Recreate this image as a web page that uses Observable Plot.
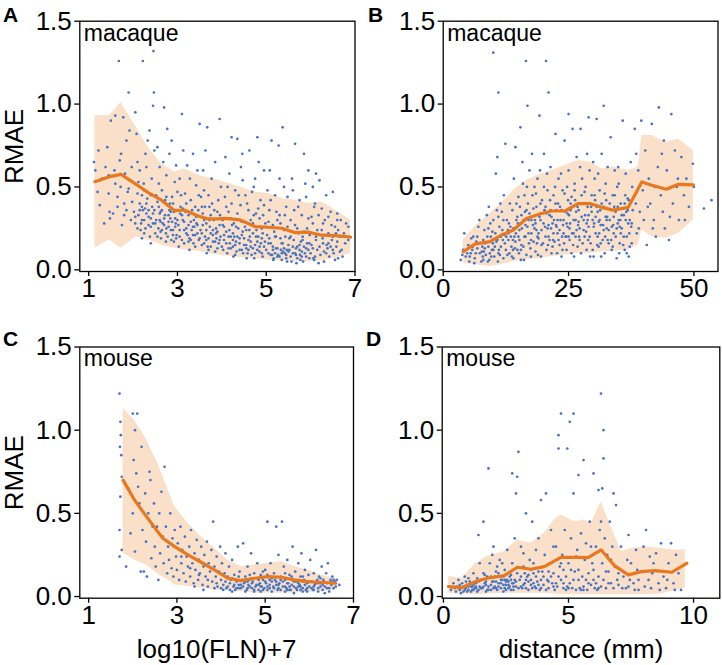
<!DOCTYPE html>
<html><head><meta charset="utf-8">
<script src="https://cdn.jsdelivr.net/npm/d3@7"></script>
<script src="https://cdn.jsdelivr.net/npm/@observablehq/plot@0.6"></script>
<style>
body{margin:0;background:#fff}
#root{position:relative;width:722px;height:665px;font-family:"Liberation Sans",Arial,Helvetica,sans-serif}
#root svg.p{position:absolute}
</style>
</head><body><div id="root"></div>
<script>
// ---- ticks and labels ----
const yTicks = [0, 0.5, 1.0, 1.5];
const xTicksFLN = [1, 3, 5, 7];
const xTicksMacDist = [0, 25, 50];
const xTicksMouseDist = [0, 5, 10];
const speciesTop = "macaque";
const speciesBottom = "mouse";
const xLabelFLN = "log10(FLN)+7";
const xLabelDist = "distance (mm)";
const yLabel = "RMAE";
const panelLetters = ["A", "B", "C", "D"];

// ---- Panel A: macaque, RMAE vs log10(FLN)+7 ----
const meanA = [[1.14,0.532],[1.47,0.562],[1.73,0.576],[2.07,0.516],[2.34,0.466],[2.64,0.42],[2.94,0.357],[3.15,0.361],[3.47,0.325],[3.69,0.307],[3.92,0.307],[4.07,0.311],[4.41,0.301],[4.75,0.261],[5.05,0.257],[5.35,0.251],[5.64,0.225],[5.96,0.227],[6.25,0.209],[6.56,0.207],[6.9,0.197]];
const bandA = [[1.14,0.13,0.93],[1.47,0.18,0.93],[1.73,0.13,1.01],[2.07,0.20,0.86],[2.34,0.18,0.74],[2.64,0.15,0.64],[2.94,0.13,0.59],[3.15,0.12,0.61],[3.47,0.11,0.57],[3.92,0.09,0.54],[4.41,0.074,0.50],[4.75,0.065,0.47],[5.05,0.06,0.46],[5.35,0.054,0.43],[5.64,0.05,0.42],[5.96,0.05,0.40],[6.25,0.054,0.41],[6.56,0.07,0.36],[6.9,0.10,0.30]];
const ptsA = [[1.12,0.65],[1.15,0.60],[1.2,0.47],[1.25,0.39],[1.3,0.55],[1.35,0.28],[1.42,0.74],[1.45,0.46],[1.47,0.35],[1.5,0.9],[1.45,0.57],[1.48,0.31],[1.38,0.62],[1.22,0.72],
[1.55,0.34],[1.6,0.93],[1.65,0.44],[1.68,1.26],[1.7,0.66],[1.72,0.5],[1.75,0.27],[1.78,0.92],[1.8,0.4],[1.82,0.58],[1.85,0.36],[1.88,0.47],[1.9,1.07],[1.92,0.84],[1.95,0.3],[1.97,0.62],[1.6,0.52],[1.65,0.38],[1.73,0.7],[1.85,0.78],[1.9,0.49],[1.98,0.41],[1.58,0.6],[1.8,0.33],
[2.02,0.35],[2.05,0.28],[2.08,0.82],[2.1,0.46],[2.12,0.33],[2.15,0.6],[2.17,0.24],[2.2,0.38],[2.22,1.26],[2.24,0.52],[2.25,0.3],[2.28,0.7],[2.3,0.34],[2.32,0.43],[2.35,0.27],[2.37,0.84],[2.4,0.31],[2.42,0.55],[2.45,0.99],[2.46,1.32],[2.48,0.36],[2.5,0.22],[2.05,0.95],[2.1,0.65],[2.15,0.4],[2.2,0.19],[2.25,0.48],[2.3,0.62],[2.35,0.36],[2.4,0.45],[2.45,0.28],[2.48,0.72],[2.18,0.28],[2.28,0.25],[2.38,0.2],[2.43,0.38],[2.12,0.53],[2.33,0.78],[2.47,1.07],[2.22,0.36],
[2.52,0.3],[2.55,0.41],[2.57,0.25],[2.6,0.62],[2.62,0.35],[2.63,0.19],[2.65,0.48],[2.67,0.28],[2.7,0.98],[2.72,0.33],[2.74,0.22],[2.75,0.57],[2.78,0.39],[2.8,0.26],[2.82,0.7],[2.84,0.31],[2.86,0.18],[2.88,0.44],[2.9,0.24],[2.92,0.35],[2.94,0.53],[2.96,0.28],[2.98,0.21],[2.55,0.74],[2.6,0.3],[2.65,0.36],[2.7,0.27],[2.75,0.44],[2.8,0.33],[2.85,0.24],[2.9,0.4],[2.95,0.31],[2.58,0.52],[2.68,0.65],[2.78,0.2],[2.88,0.29],[2.92,0.17],[2.62,0.23],[2.72,0.42],[2.82,0.36],[2.97,0.63],[2.87,0.78],[2.77,0.85],
[3.02,0.27],[3.05,0.2],[3.07,0.38],[3.1,0.94],[3.12,0.3],[3.15,0.16],[3.17,0.46],[3.2,0.25],[3.22,0.63],[3.25,0.33],[3.27,0.19],[3.3,0.42],[3.32,0.24],[3.35,0.7],[3.37,0.3],[3.4,0.14],[3.42,0.51],[3.45,0.22],[3.47,0.36],[3.5,0.88],[3.05,0.55],[3.1,0.33],[3.15,0.24],[3.2,0.4],[3.25,0.17],[3.3,0.29],[3.35,0.21],[3.4,0.38],[3.45,0.6],[3.48,0.18],[3.08,0.45],[3.18,0.35],[3.28,0.55],[3.38,0.26],[3.13,0.72],[3.23,0.21],[3.33,0.36],[3.43,0.28],[3.03,0.14],[3.48,0.45],
[3.52,0.24],[3.55,0.15],[3.57,0.34],[3.6,0.48],[3.62,0.2],[3.65,0.28],[3.67,0.86],[3.7,0.12],[3.72,0.38],[3.75,0.22],[3.77,0.55],[3.8,0.17],[3.82,0.3],[3.85,0.65],[3.87,0.25],[3.9,0.13],[3.92,0.42],[3.95,0.91],[3.97,0.2],[3.55,0.38],[3.6,0.3],[3.65,0.18],[3.7,0.45],[3.75,0.33],[3.8,0.24],[3.85,0.11],[3.9,0.35],[3.95,0.27],[3.58,0.6],[3.68,0.14],[3.78,0.4],[3.88,0.19],[3.98,0.5],[3.63,0.72],[3.73,0.26],[3.83,0.36],[3.93,0.16],[3.53,0.44],
[4.02,0.3],[4.05,0.18],[4.07,0.44],[4.1,0.23],[4.12,0.1],[4.15,0.35],[4.17,0.58],[4.2,0.2],[4.22,0.8],[4.25,0.14],[4.27,0.28],[4.3,0.48],[4.32,0.17],[4.35,0.79],[4.37,0.25],[4.4,0.12],[4.42,0.39],[4.45,0.21],[4.47,0.54],[4.5,0.15],[4.05,0.26],[4.1,0.38],[4.15,0.13],[4.2,0.31],[4.25,0.22],[4.3,0.09],[4.35,0.34],[4.4,0.19],[4.45,0.29],[4.48,0.1],[4.08,0.68],[4.18,0.16],[4.28,0.2],[4.38,0.45],[4.43,0.62],[4.13,0.5],[4.23,0.27],[4.33,0.11],[4.03,0.12],[4.46,0.7],
[4.52,0.26],[4.55,0.13],[4.57,0.4],[4.6,0.18],[4.62,0.72],[4.65,0.3],[4.67,0.09],[4.7,0.22],[4.72,0.5],[4.75,0.15],[4.77,0.34],[4.8,0.8],[4.82,0.2],[4.85,0.11],[4.87,0.42],[4.9,0.25],[4.92,0.08],[4.95,0.6],[4.97,0.17],[4.55,0.24],[4.6,0.36],[4.65,0.14],[4.7,0.28],[4.75,0.55],[4.8,0.12],[4.85,0.31],[4.9,0.19],[4.95,0.39],[4.58,0.1],[4.68,0.47],[4.78,0.24],[4.88,0.16],[4.98,0.28],[4.63,0.2],[4.73,0.07],[4.83,0.65],[4.93,0.33],[4.53,0.45],
[5.02,0.21],[5.05,0.1],[5.07,0.36],[5.1,0.16],[5.12,0.78],[5.15,0.27],[5.17,0.07],[5.2,0.45],[5.22,0.13],[5.25,0.3],[5.27,0.09],[5.3,0.55],[5.32,0.19],[5.35,0.06],[5.37,0.86],[5.4,0.24],[5.42,0.1],[5.45,0.38],[5.47,0.05],[5.5,0.15],[5.05,0.29],[5.1,0.42],[5.15,0.12],[5.2,0.2],[5.25,0.08],[5.3,0.33],[5.35,0.16],[5.4,0.5],[5.45,0.07],[5.48,0.26],[5.08,0.6],[5.18,0.23],[5.28,0.75],[5.38,0.11],[5.43,0.2],[5.13,0.09],[5.23,0.35],[5.33,0.12],[5.03,0.48],[5.48,0.44],
[5.52,0.12],[5.55,0.3],[5.57,0.05],[5.6,0.48],[5.62,0.18],[5.65,0.76],[5.67,0.09],[5.7,0.25],[5.72,0.38],[5.75,0.12],[5.77,0.06],[5.8,0.33],[5.82,0.2],[5.85,0.7],[5.87,0.1],[5.9,0.44],[5.92,0.16],[5.95,0.6],[5.97,0.07],[5.55,0.2],[5.6,0.1],[5.65,0.27],[5.7,0.14],[5.75,0.42],[5.8,0.08],[5.85,0.23],[5.9,0.13],[5.95,0.31],[5.58,0.55],[5.68,0.04],[5.78,0.17],[5.88,0.52],[5.98,0.21],[5.63,0.36],[5.73,0.22],[5.83,0.05],
[6.02,0.15],[6.05,0.28],[6.08,0.06],[6.1,0.4],[6.12,0.2],[6.15,0.12],[6.18,0.33],[6.2,0.54],[6.22,0.09],[6.25,0.24],[6.28,0.16],[6.3,0.05],[6.32,0.3],[6.35,0.45],[6.38,0.13],[6.4,0.22],[6.42,0.08],[6.45,0.35],[6.48,0.18],[6.5,0.47],[6.52,0.1],[6.55,0.26],[6.58,0.14],[6.6,0.34],[6.62,0.07],[6.65,0.2],[6.68,0.3],[6.7,0.12],[6.75,0.22],[6.78,0.16],[6.8,0.28],[6.85,0.18],[6.05,0.5],[6.15,0.24],[6.25,0.37],[6.35,0.1],[6.45,0.14],[6.55,0.06],[6.12,0.58],[6.08,0.38],[6.28,0.28],[6.4,0.32],[6.62,0.24],[6.72,0.08],[6.18,0.04],[6.5,0.2],[6.85,0.26]];
const ptsA2 = [[2.05,0.32],[2.1,0.25],[2.15,0.36],[2.2,0.3],[2.25,0.22],[2.3,0.4],[2.35,0.32],[2.4,0.26],[2.45,0.34],[2.5,0.28],[2.55,0.2],[2.6,0.34],[2.65,0.24],[2.7,0.31],[2.75,0.25],[2.8,0.29],[2.85,0.35],[2.9,0.21],[2.95,0.26],[3.0,0.3],[3.05,0.24],[3.1,0.18],[3.15,0.29],[3.2,0.22],[3.25,0.27],[3.3,0.18],[3.35,0.26],[3.4,0.21],[3.45,0.27],[3.5,0.19],[3.55,0.22],[3.6,0.16],[3.65,0.24],[3.7,0.19],[3.75,0.14],[3.8,0.21],[3.85,0.17],[3.9,0.23],[3.95,0.18],[4.0,0.14],[4.05,0.21],[4.1,0.16],[4.15,0.2],[4.2,0.13],[4.25,0.18],[4.3,0.15],[4.35,0.2],[4.4,0.16],[4.45,0.12],[4.5,0.19],[4.55,0.15],[4.6,0.12],[4.65,0.17],[4.7,0.13],[4.75,0.1],[4.8,0.17],[4.85,0.14],[4.9,0.1],[4.95,0.14],[5.0,0.12],[5.05,0.16],[5.1,0.09],[5.15,0.14],[5.2,0.1],[5.25,0.13],[5.3,0.08],[5.35,0.1],[5.4,0.13],[5.45,0.09],[5.5,0.11],[5.55,0.08],[5.6,0.14],[5.65,0.1],[5.7,0.07],[5.75,0.15],[5.8,0.11],[5.85,0.14],[5.9,0.08],[5.95,0.12],[6.0,0.1],[6.05,0.13],[6.1,0.08],[6.2,0.14],[6.3,0.11],[6.4,0.16],[6.5,0.12],[6.6,0.17],[6.7,0.2],[2.52,0.45],[2.83,0.4],[3.12,0.37],[3.42,0.32],[3.72,0.3],[4.02,0.27],[4.32,0.26],[4.62,0.24],[4.92,0.22],[5.22,0.2],[5.52,0.19],[5.82,0.18],[6.12,0.18],[2.27,0.37],[2.62,0.29],[2.97,0.19],[3.27,0.12],[3.57,0.27],[3.87,0.22],[4.17,0.24],[4.47,0.23],[4.77,0.2],[5.07,0.19],[5.37,0.16],[5.67,0.13],[5.97,0.16],[6.27,0.19],[6.57,0.22],[2.4,0.16],[2.74,0.17],[3.06,0.34],[3.36,0.16],[3.66,0.1],[3.96,0.33],[4.26,0.08],[4.56,0.07],[4.86,0.26],[5.16,0.06],[5.46,0.12],[5.76,0.09],[6.06,0.07],[6.36,0.15],[6.66,0.11],[3.52,0.32],[4.12,0.31],[4.72,0.33],[5.32,0.28],[5.92,0.25],[6.47,0.27],[2.2,0.45],[2.58,0.38],[3.0,0.47],[3.62,0.38],[4.22,0.4],[4.82,0.37],[5.42,0.33],[6.02,0.32],[6.6,0.3]];

// ---- Panel B: macaque, RMAE vs distance ----
const meanB = [[4.0,0.11],[6.3,0.155],[9.3,0.17],[11.6,0.21],[14.0,0.24],[16.6,0.31],[19.6,0.34],[21.6,0.355],[24.3,0.355],[26.9,0.40],[29.3,0.40],[31.6,0.377],[33.9,0.36],[36.9,0.377],[39.6,0.53],[41.6,0.51],[44.5,0.486],[46.9,0.516],[49.9,0.512]];
const bandB = [[4.0,0.04,0.18],[6.3,0.03,0.26],[9.3,0.02,0.34],[11.6,0.03,0.40],[14.0,0.05,0.48],[16.6,0.06,0.54],[19.6,0.07,0.58],[21.6,0.08,0.60],[24.3,0.09,0.63],[26.9,0.10,0.66],[29.3,0.10,0.65],[31.6,0.11,0.61],[33.9,0.11,0.62],[36.9,0.12,0.60],[38.9,0.15,0.62],[39.6,0.24,0.81],[41.6,0.20,0.81],[44.5,0.19,0.77],[46.9,0.22,0.79],[49.9,0.30,0.72]];
const ptsB = [[3.5,0.06],[4,0.12],[4.5,0.08],[5,0.15],[5.5,0.1],[6,0.2],[6.3,0.07],[6.8,0.13],[7,0.26],[7.3,0.1],[7.6,0.05],[8,0.18],[4.2,0.22],[5.2,0.05],[5.8,0.12],[6.6,0.17],[7.2,0.3],[7.8,0.14],[3.8,0.09],[6.2,0.04],[7.9,0.08],[5.6,0.19],[4.8,0.1],
[8.2,0.24],[8.5,0.09],[8.7,0.33],[9,0.14],[9.2,0.06],[9.5,0.2],[9.7,0.12],[10,1.31],[10,0.3],[10.2,0.08],[10.5,0.58],[10.6,0.17],[10.8,0.68],[11,1.07],[11,0.1],[11.2,0.26],[11.5,0.14],[11.7,0.35],[12,0.07],[12.2,0.21],[12.4,0.76],[12.5,0.12],[12.7,0.3],[13,0.18],[8.4,0.16],[8.9,0.05],[9.4,0.28],[9.9,0.16],[10.4,0.22],[10.9,0.05],[11.4,0.4],[11.9,0.18],[12.8,0.09],[9.1,0.38],[10.7,0.36],[12.1,0.45],[12.9,0.24],[8.1,0.11],[9.6,0.08],[11.1,0.12],
[13.2,0.1],[13.4,0.26],[13.6,0.14],[13.8,0.36],[14,0.07],[14.2,0.2],[14.4,0.74],[14.6,0.3],[14.8,0.12],[15,0.44],[15.2,0.18],[15.4,0.86],[15.5,0.06],[15.7,0.25],[15.9,0.52],[16,0.14],[16.3,0.35],[16.5,1.26],[16.6,0.09],[16.8,0.99],[17,0.22],[17.2,0.6],[17.4,0.13],[17.6,0.3],[17.8,0.45],[18,0.17],[13.3,0.4],[13.9,0.18],[14.5,0.22],[15.1,0.1],[15.6,0.33],[16.2,0.2],[16.9,0.4],[17.5,0.08],[17.9,0.27],[14.1,0.55],[15.8,0.65],[16.4,0.27],[17.1,0.16],[13.7,0.08],[14.9,0.28],[16.7,0.5],[17.7,0.7],[15.3,0.38],[14.3,0.13],[16.1,0.06],
[18.2,0.25],[18.4,0.11],[18.6,0.38],[18.8,0.55],[19,0.19],[19.2,0.93],[19.4,0.3],[19.5,0.08],[19.7,0.42],[19.9,0.16],[20.1,0.7],[20.3,0.26],[20.5,1.26],[20.6,0.12],[20.8,0.48],[21,1.07],[21,0.2],[21.2,0.33],[21.4,0.62],[21.6,0.1],[21.8,0.28],[22,0.45],[22.2,0.17],[22.4,0.82],[22.6,0.36],[22.8,0.22],[23,0.55],[18.3,0.3],[18.9,0.09],[19.6,0.24],[20.2,0.36],[20.9,0.15],[21.5,0.25],[22.1,0.3],[22.7,0.1],[18.5,0.46],[19.3,0.6],[20.7,0.58],[21.9,0.18],[22.9,0.4],[18.7,0.16],[20.4,0.2],[21.3,0.42],[22.5,0.27],[19.8,0.34],
[23.2,0.15],[23.4,0.3],[23.6,0.08],[23.8,0.48],[24,0.22],[24.2,0.78],[24.4,0.35],[24.6,0.12],[24.8,0.26],[25,0.94],[25,0.6],[25.2,0.18],[25.4,0.4],[25.6,0.1],[25.8,0.85],[26,0.3],[26.2,0.52],[26.4,0.2],[26.6,0.68],[26.8,0.14],[27,0.36],[27.2,0.25],[27.4,0.85],[27.6,0.45],[27.8,0.16],[28,0.3],[23.3,0.38],[23.9,0.27],[24.5,0.2],[25.1,0.33],[25.7,0.22],[26.3,0.42],[26.9,0.27],[27.5,0.1],[23.5,0.58],[24.1,0.16],[24.7,0.5],[25.3,0.28],[25.9,0.15],[26.5,0.35],[27.1,0.2],[27.7,0.55],[23.7,0.2],[24.9,0.42],[26.1,0.08],[27.3,0.62],
[28.2,0.2],[28.4,0.5],[28.6,0.12],[28.8,0.38],[29,0.92],[29,0.26],[29.2,0.6],[29.4,0.16],[29.6,0.45],[29.8,0.3],[30,0.08],[30.2,0.55],[30.4,0.22],[30.6,0.91],[30.8,0.35],[31,0.14],[31.2,0.48],[31.4,0.27],[31.6,0.7],[31.8,0.18],[32,0.99],[32,0.38],[32.2,0.1],[32.4,0.52],[32.6,0.25],[32.8,0.62],[33,0.16],[28.3,0.33],[28.9,0.18],[29.5,0.38],[30.1,0.28],[30.7,0.15],[31.3,0.36],[31.9,0.27],[32.5,0.42],[28.7,0.7],[29.9,0.65],[30.9,0.58],[31.5,0.08],[32.7,0.32],[28.5,0.23],[29.3,0.08],[30.3,0.42],[31.1,0.22],[32.3,0.2],
[33.2,0.3],[33.4,0.8],[33.6,0.12],[33.8,0.45],[34,0.22],[34.2,0.6],[34.4,0.35],[34.6,0.07],[34.8,0.28],[35,0.52],[35.2,0.16],[35.4,0.4],[35.6,0.25],[35.8,0.9],[36,0.33],[36.2,0.12],[36.4,0.58],[36.6,0.2],[36.8,0.43],[37,0.08],[37.2,0.3],[37.4,0.65],[37.6,0.16],[37.8,0.36],[33.5,0.18],[34.1,0.38],[34.7,0.5],[35.3,0.3],[35.9,0.15],[36.5,0.35],[37.1,0.22],[37.7,0.5],[33.9,0.27],[35.1,0.1],[36.3,0.45],[37.5,0.26],[34.9,0.62],[36.9,0.28],
[38.2,0.85],[38.4,0.4],[38.6,0.22],[38.9,0.6],[39.2,0.35],[39.5,0.9],[39.8,0.48],[40,0.3],[40.3,0.72],[40.6,0.15],[41,0.55],[41.3,0.4],[41.6,0.88],[42,0.3],[42.4,0.2],[42.8,0.62],[43,0.98],[43.4,0.45],[43.8,0.35],[44.2,0.25],[44.6,0.6],[45,0.18],[45.5,0.94],[45.8,0.4],[46.2,0.72],[46.6,0.5],[47,0.3],[47.5,0.68],[48,0.45],[48.5,0.55],[49,0.38],[49.8,0.64],[50,0.5],[52,0.37],[53.5,0.42],[39,0.25],[40.8,0.38],[42.2,0.5],[44,0.78],[45.2,0.32],[46.8,0.55],[48.2,0.3],[38.5,0.7],[41.8,0.25],[43.6,0.7]];
const ptsB2 = [[5.3,0.08],[5.9,0.14],[6.5,0.1],[7.1,0.16],[7.7,0.11],[8.3,0.13],[8.8,0.2],[9.3,0.1],[9.8,0.23],[10.3,0.14],[10.8,0.18],[11.3,0.09],[11.8,0.24],[12.3,0.16],[12.6,0.2],[13.1,0.28],[13.5,0.2],[14.0,0.25],[14.4,0.17],[14.8,0.32],[15.2,0.24],[15.6,0.15],[16.0,0.3],[16.4,0.2],[16.8,0.26],[17.2,0.34],[17.6,0.22],[18.0,0.37],[18.4,0.28],[18.8,0.2],[19.2,0.32],[19.6,0.15],[20.0,0.28],[20.4,0.38],[20.8,0.25],[21.2,0.18],[21.6,0.32],[22.0,0.22],[22.4,0.4],[22.8,0.3],[23.2,0.24],[23.6,0.36],[24.0,0.3],[24.4,0.2],[24.8,0.34],[25.2,0.25],[25.6,0.44],[26.0,0.22],[26.4,0.3],[26.8,0.38],[27.2,0.18],[27.6,0.32],[28.0,0.24],[28.4,0.4],[28.8,0.3],[29.2,0.2],[29.6,0.35],[30.0,0.26],[30.4,0.32],[30.8,0.2],[31.2,0.3],[31.6,0.4],[32.0,0.24],[32.4,0.32],[32.8,0.18],[33.2,0.4],[33.6,0.26],[34.0,0.32],[34.4,0.2],[34.8,0.38],[35.2,0.26],[35.6,0.33],[36.0,0.2],[36.4,0.3],[36.8,0.36],[37.2,0.14],[37.6,0.28],[14.6,0.4],[16.2,0.45],[18.2,0.5],[20.1,0.5],[22.3,0.5],[24.2,0.46],[26.2,0.48],[28.2,0.47],[30.2,0.45],[32.2,0.46],[34.2,0.45],[36.2,0.4],[19.0,0.22],[21.0,0.27],[23.0,0.18],[25.0,0.2],[27.0,0.29],[29.0,0.33],[31.0,0.29],[33.0,0.24],[35.0,0.3],[37.0,0.42],[12.0,0.3],[10.0,0.12],[8.0,0.06],[15.5,0.12],[17.5,0.18],[20.6,0.34],[23.8,0.12],[26.6,0.24],[29.8,0.12],[33.8,0.14],[36.6,0.1],[11.5,0.2],[13.9,0.12],[16.6,0.36],[19.4,0.4],[21.8,0.14],[24.6,0.28],[27.4,0.4],[30.6,0.38],[32.6,0.3],[35.4,0.22],[9.0,0.25],[6.8,0.2],[11.0,0.32],[13.0,0.22],[15.0,0.2],[17.0,0.3],[18.6,0.24],[21.4,0.36],[22.6,0.26],[25.4,0.36],[28.6,0.28],[31.4,0.16],[34.6,0.25]];

// ---- Panel C: mouse, RMAE vs log10(FLN)+7 ----
const meanC = [[1.78,0.70],[2.04,0.58],[2.34,0.47],[2.68,0.35],[2.95,0.30],[3.25,0.25],[3.55,0.206],[3.85,0.16],[4.15,0.11],[4.45,0.096],[4.76,0.11],[5.06,0.12],[5.36,0.116],[5.66,0.10],[5.96,0.09],[6.26,0.086],[6.6,0.08]];
const bandC = [[1.78,0.26,1.13],[2.04,0.22,1.06],[2.3,0.19,0.95],[2.6,0.13,0.78],[2.8,0.10,0.64],[2.95,0.07,0.54],[3.25,0.06,0.44],[3.55,0.05,0.36],[3.85,0.04,0.29],[4.15,0.036,0.22],[4.45,0.03,0.18],[4.76,0.02,0.19],[5.06,0.02,0.20],[5.36,0.02,0.21],[5.66,0.022,0.18],[5.96,0.024,0.16],[6.26,0.03,0.13],[6.6,0.04,0.11]];
const ptsC = [[1.7,1.22],[1.72,1.05],[1.73,0.97],[1.71,0.9],[1.74,0.85],[1.7,0.4],[1.75,0.28],[1.7,0.24],[1.72,0.6],[1.75,0.72],[1.85,0.18],[1.9,0.65],[1.95,0.38],[2.0,1.1],[2.1,1.1],[2.05,1.0],[2.02,0.82],[2.08,0.74],[2.0,0.5],[2.05,0.27],[2.12,0.66],[2.15,0.56],[2.18,0.15],[2.2,0.9],[2.22,0.4],[2.25,0.15],[2.28,0.62],[2.3,0.33],[2.32,0.12],[2.35,0.5],[2.38,0.75],[2.4,0.7],[2.42,0.23],[2.45,0.42],[2.48,0.56],[2.5,0.3],[2.52,0.18],[2.55,0.42],[2.58,0.1],[2.6,0.5],[2.62,0.26],[2.65,0.63],[2.68,0.36],[2.7,0.2],[2.72,0.78],[2.75,0.42],[2.78,0.14],[2.8,0.3],[2.82,0.22],[2.85,0.5],[2.88,0.17],[2.9,0.35],[2.92,0.12],[2.95,0.4],[2.98,0.24],
[3.0,0.16],[3.02,0.32],[3.05,0.1],[3.08,0.42],[3.1,0.2],[3.12,0.28],[3.15,0.14],[3.18,0.36],[3.2,0.09],[3.22,0.24],[3.25,0.18],[3.28,0.3],[3.3,0.12],[3.32,0.4],[3.35,0.2],[3.38,0.08],[3.4,0.26],[3.42,0.16],[3.45,0.34],[3.48,0.1],[3.5,0.22],[3.52,0.14],[3.55,0.3],[3.58,0.07],[3.6,0.18],[3.62,0.25],[3.65,0.12],[3.68,0.33],[3.7,0.06],[3.72,0.2],[3.75,0.15],[3.78,0.28],[3.8,0.09],[3.82,0.45],[3.85,0.18],[3.88,0.12],[3.9,0.24],[3.92,0.06],[3.95,0.15],[3.98,0.3],
[4.0,0.1],[4.02,0.2],[4.05,0.07],[4.08,0.14],[4.1,0.26],[4.12,0.05],[4.15,0.12],[4.18,0.18],[4.2,0.08],[4.22,0.1],[4.25,0.22],[4.28,0.06],[4.3,0.13],[4.32,0.04],[4.35,0.09],[4.38,0.3],[4.4,0.07],[4.42,0.15],[4.45,0.05],[4.48,0.1],[4.5,0.32],[4.52,0.08],[4.55,0.12],[4.58,0.04],[4.6,0.18],[4.62,0.07],[4.65,0.1],[4.68,0.26],[4.7,0.05],[4.72,0.09],[4.75,0.14],[4.78,0.06],[4.8,0.11],[4.82,0.2],[4.85,0.04],[4.88,0.08],[4.9,0.13],[4.92,0.06],[4.95,0.1],[4.98,0.05],
[5.0,0.16],[5.02,0.08],[5.05,0.45],[5.08,0.12],[5.1,0.05],[5.12,0.2],[5.15,0.09],[5.18,0.06],[5.2,0.14],[5.22,0.1],[5.25,0.42],[5.28,0.04],[5.3,0.25],[5.32,0.08],[5.35,0.12],[5.38,0.45],[5.4,0.06],[5.42,0.18],[5.45,0.1],[5.48,0.05],[5.5,0.22],[5.52,0.08],[5.55,0.13],[5.58,0.04],[5.6,0.1],[5.62,0.3],[5.65,0.06],[5.68,0.15],[5.7,0.09],[5.72,0.04],[5.75,0.2],[5.78,0.07],[5.8,0.12],[5.82,0.26],[5.85,0.05],[5.88,0.1],[5.9,0.16],[5.92,0.04],[5.95,0.08],[5.98,0.13],
[6.0,0.06],[6.02,0.22],[6.05,0.09],[6.08,0.04],[6.1,0.14],[6.12,0.07],[6.15,0.28],[6.18,0.1],[6.2,0.05],[6.22,0.12],[6.25,0.08],[6.28,0.18],[6.3,0.04],[6.32,0.1],[6.35,0.06],[6.38,0.14],[6.4,0.08],[6.42,0.2],[6.45,0.05],[6.48,0.1],[6.5,0.07],[6.52,0.12],[6.55,0.05],[6.58,0.09],[6.62,0.1],[6.68,0.07],
[4.05,0.04],[4.25,0.03],[4.45,0.07],[4.55,0.03],[4.7,0.11],[4.75,0.04],[4.9,0.03],[5.05,0.06],[5.15,0.03],[5.3,0.05],[5.45,0.03],[5.55,0.06],[5.65,0.02],[5.8,0.04],[5.95,0.03],[6.05,0.05],[6.2,0.03],[6.35,0.02],[4.15,0.06],[4.35,0.05],[4.65,0.06],[4.85,0.07],[5.25,0.07],[5.5,0.04],[5.75,0.06],[6.1,0.04],[6.45,0.03],[4.4,0.12],[4.95,0.15],[5.35,0.1],[5.85,0.09],[6.25,0.11],[4.6,0.09],[5.1,0.1],[5.6,0.12],[6.15,0.08],[6.55,0.1],[3.6,0.04],[3.85,0.05],[3.4,0.06]];
const ptsC2 = [[3.9,0.08],[4.0,0.05],[4.1,0.09],[4.2,0.04],[4.3,0.07],[4.4,0.05],[4.5,0.06],[4.55,0.09],[4.6,0.05],[4.7,0.08],[4.75,0.03],[4.8,0.07],[4.85,0.1],[4.9,0.06],[4.95,0.04],[5.0,0.09],[5.05,0.04],[5.1,0.07],[5.15,0.11],[5.2,0.05],[5.25,0.09],[5.3,0.07],[5.35,0.04],[5.4,0.09],[5.45,0.06],[5.5,0.08],[5.55,0.04],[5.6,0.07],[5.65,0.09],[5.7,0.05],[5.75,0.08],[5.8,0.06],[5.85,0.03],[5.9,0.07],[5.95,0.05],[6.0,0.09],[6.1,0.06],[6.2,0.08],[6.3,0.07],[6.4,0.05],[6.5,0.09],[6.6,0.06],[4.25,0.11],[4.65,0.13],[5.05,0.13],[5.45,0.14],[5.85,0.12],[6.25,0.06],[3.7,0.1],[3.5,0.13],[3.3,0.17],[3.1,0.24]];

// ---- Panel D: mouse, RMAE vs distance ----
const meanD = [[0.21,0.06],[0.75,0.054],[1.29,0.09],[1.76,0.11],[2.43,0.126],[2.96,0.176],[3.5,0.164],[4.03,0.18],[4.7,0.236],[5.24,0.236],[5.78,0.234],[6.31,0.28],[6.85,0.184],[7.39,0.13],[7.92,0.15],[8.46,0.156],[9.13,0.146],[9.73,0.20]];
const bandD = [[0.21,0.02,0.12],[0.75,0.015,0.11],[1.29,0.01,0.20],[1.76,0.015,0.24],[2.43,0.02,0.27],[2.96,0.02,0.34],[3.5,0.02,0.32],[4.03,0.02,0.38],[4.43,0.015,0.46],[4.7,0.01,0.49],[5.24,0.01,0.45],[5.64,0.01,0.46],[5.91,0.01,0.44],[6.31,0.01,0.57],[6.72,0.01,0.41],[7.12,0.01,0.27],[7.52,0.01,0.29],[8.06,0.01,0.30],[8.73,0.015,0.29],[9.13,0.03,0.28],[9.67,0.05,0.28]];
const ptsD = [[0.2,0.06],[0.3,0.04],[0.4,0.08],[0.5,0.03],[0.55,0.06],[0.6,0.1],[0.65,0.04],[0.7,0.05],[0.75,0.08],[0.8,0.03],[0.85,0.12],[0.9,0.05],[0.95,0.07],[1.0,0.04],[1.05,0.09],[1.1,0.03],[1.15,0.06],[1.2,0.14],[1.25,0.05],[1.3,0.08],[1.35,0.03],[1.4,0.37],[1.45,0.06],[1.5,0.1],[0.45,0.05],[0.65,0.07],[0.85,0.04],[1.0,0.11],[1.15,0.04],[1.3,0.05],[1.45,0.2],[0.95,0.03],[1.2,0.07],[1.4,0.04],[0.7,0.02],[1.1,0.06],
[1.55,0.05],[1.6,0.45],[1.65,0.08],[1.7,0.03],[1.75,0.12],[1.8,0.77],[1.8,0.06],[1.85,0.2],[1.9,0.04],[1.95,0.09],[2.0,0.3],[2.05,0.06],[2.1,0.15],[2.15,0.04],[2.2,0.08],[2.25,0.22],[2.3,0.05],[2.35,0.1],[2.4,0.03],[2.45,0.16],[2.5,0.07],[2.55,0.28],[2.6,0.05],[2.65,0.12],[2.7,0.04],[2.75,0.74],[2.75,0.2],[2.8,0.08],[2.85,0.35],[2.9,0.62],[2.9,0.06],[2.95,0.72],[2.95,0.14],[3.0,0.87],[1.6,0.14],[1.7,0.07],[1.9,0.12],[2.0,0.05],[2.1,0.09],[2.2,0.14],[2.3,0.1],[2.4,0.07],[2.5,0.04],[2.6,0.09],[2.7,0.1],[2.8,0.04],[2.85,0.1],[1.75,0.04],[2.15,0.18],[2.45,0.05],[2.65,0.06],[1.95,0.25],[2.35,0.2],[2.55,0.1],
[3.05,0.1],[3.1,0.3],[3.15,0.05],[3.2,0.18],[3.25,0.08],[3.3,0.5],[3.35,0.12],[3.4,0.04],[3.45,0.22],[3.5,0.07],[3.55,0.45],[3.6,0.14],[3.65,0.06],[3.7,0.28],[3.75,0.09],[3.8,0.35],[3.85,0.04],[3.9,0.58],[3.95,0.15],[4.0,0.07],[4.05,0.25],[4.1,0.62],[4.15,0.1],[4.2,0.05],[4.25,0.2],[4.3,0.4],[4.35,0.08],[4.4,0.14],[4.45,0.04],[4.5,0.3],[4.55,0.06],[4.6,0.97],[4.6,0.89],[4.65,0.18],[4.7,1.1],[4.7,0.1],[4.75,0.25],[4.8,0.05],[4.85,0.4],[4.9,0.12],[4.95,0.89],[4.95,0.06],[3.1,0.06],[3.3,0.1],[3.5,0.16],[3.7,0.05],[3.9,0.1],[4.1,0.04],[4.3,0.12],[4.5,0.08],[4.7,0.2],[4.9,0.04],[3.2,0.26],[3.6,0.2],[4.0,0.18],[4.4,0.3],[4.8,0.16],[3.4,0.09],[3.8,0.07],[4.2,0.15],
[5.0,0.2],[5.05,1.05],[5.05,0.08],[5.1,0.35],[5.15,0.05],[5.2,1.1],[5.2,0.62],[5.25,0.15],[5.3,0.04],[5.35,0.28],[5.4,0.73],[5.4,0.1],[5.45,0.05],[5.5,0.38],[5.55,0.12],[5.6,0.82],[5.6,0.06],[5.65,0.22],[5.7,0.32],[5.75,0.04],[5.8,0.14],[5.85,0.45],[5.9,0.07],[5.95,0.2],[6.0,0.74],[6.0,0.1],[6.05,0.05],[6.1,0.3],[6.15,0.04],[6.2,0.64],[6.2,0.12],[6.25,0.4],[6.3,1.22],[6.3,0.06],[6.35,0.65],[6.35,0.2],[6.4,1.0],[6.4,0.83],[6.4,0.1],[6.45,0.35],[6.5,0.05],[6.55,0.25],[6.6,0.15],[6.65,0.45],[6.7,0.08],[6.75,0.3],[6.8,0.62],[6.8,0.05],[6.85,0.18],[6.9,0.55],[6.95,0.1],[5.1,0.16],[5.3,0.24],[5.5,0.04],[5.7,0.1],[5.9,0.3],[6.1,0.08],[6.3,0.45],[6.5,0.15],[6.7,0.22],
[7.0,0.07],[7.1,0.3],[7.2,0.12],[7.3,0.05],[7.4,0.37],[7.5,0.2],[7.6,0.08],[7.7,0.28],[7.8,0.04],[7.9,0.15],[8.0,0.3],[8.1,0.4],[8.2,0.1],[8.3,0.05],[8.4,0.2],[8.5,0.26],[8.6,0.08],[8.7,0.32],[8.8,0.12],[8.9,0.05],[9.0,0.2],[9.1,0.32],[9.2,0.08],[9.3,0.25],[9.4,0.14],[9.5,0.04],[9.7,0.2],[7.15,0.05],[7.45,0.1],[7.75,0.16],[8.05,0.06],[8.35,0.14],[8.65,0.04],[8.95,0.1],[9.25,0.04],[7.35,0.22],[7.65,0.04],[8.25,0.24]];
const ptsD2 = [[0.6,0.05],[0.8,0.06],[0.9,0.09],[1.0,0.06],[1.1,0.08],[1.2,0.04],[1.3,0.06],[1.4,0.09],[1.5,0.05],[1.6,0.06],[1.7,0.09],[1.8,0.04],[1.9,0.07],[2.0,0.09],[2.1,0.05],[2.2,0.06],[2.3,0.08],[2.4,0.12],[2.5,0.09],[2.6,0.07],[2.7,0.13],[2.8,0.06],[2.9,0.09],[3.0,0.05],[3.1,0.12],[3.2,0.07],[3.3,0.05],[3.4,0.13],[3.5,0.1],[3.6,0.08],[3.7,0.12],[3.8,0.15],[3.9,0.05],[4.0,0.12],[4.2,0.09],[4.4,0.06],[4.6,0.12],[4.8,0.08],[5.0,0.05],[5.2,0.1],[5.4,0.16],[5.6,0.04],[5.8,0.08],[6.0,0.16],[6.2,0.05],[6.6,0.08],[7.0,0.14],[7.4,0.06],[7.8,0.1],[1.35,0.11],[1.65,0.13],[2.05,0.12],[2.45,0.1],[2.75,0.08],[3.25,0.14],[3.55,0.05]];

// ---- styling ----
const FONT = '"Liberation Sans", Arial, Helvetica, sans-serif';
const DOT = "#4474c4";
const LINE = "#e8781f";
const BAND = "#fbe0c9";
const TICK_FS = 26;

function makePanel(o) {
  const svg = Plot.plot({
    width: o.width, height: o.height,
    marginLeft: o.ml, marginRight: o.mr, marginTop: o.mt, marginBottom: o.mb,
    style: {fontFamily: FONT, fontSize: TICK_FS + "px", color: "black", background: "transparent", overflow: "visible"},
    x: {domain: o.xDomain},
    y: {domain: [-0.01, 1.5]},
    marks: [
      Plot.areaY(o.band, {x: d => d[0], y1: d => d[1], y2: d => d[2], fill: BAND}),
      Plot.dot(o.pts, {x: d => d[0], y: d => d[1], r: 1.35, fill: DOT, stroke: "none"}),
      Plot.line(o.mean, {x: d => d[0], y: d => d[1], stroke: LINE, strokeWidth: 3.2}),
      Plot.frame({stroke: "black", strokeWidth: 1.3}),
      Plot.axisX({ticks: o.xTicks, tickFormat: d3.format("d"), tickSize: 5, tickPadding: 2, strokeWidth: 1.3, fontSize: TICK_FS,
        label: o.xLabel, labelAnchor: "center", labelArrow: "none", labelOffset: 60}),
      Plot.axisY({ticks: yTicks, tickFormat: d3.format(".1f"), tickSize: 5, tickPadding: 3, strokeWidth: 1.3, fontSize: TICK_FS,
        label: o.yLabel, labelAnchor: "center", labelArrow: "none", labelOffset: 75}),
      Plot.text([o.species], {frameAnchor: "top-left", dx: 4, dy: 3, lineAnchor: "top", textAnchor: "start", fontSize: 23, text: d => d})
    ]
  });
  svg.classList.add("p");
  svg.style.left = o.left + "px";
  svg.style.top = o.top + "px";
  return svg;
}

const root = document.getElementById("root");
root.appendChild(makePanel({left: 0, top: 0, width: 361, height: 330, ml: 79.3, mr: 6.5, mt: 20.7, mb: 59,
  xDomain: [0.8, 7], xTicks: xTicksFLN, xLabel: null, yLabel: yLabel, pts: ptsA.concat(ptsA2), mean: meanA, band: bandA, species: speciesTop}));
root.appendChild(makePanel({left: 361, top: 0, width: 361, height: 330, ml: 81.7, mr: 4.5, mt: 20.7, mb: 59,
  xDomain: [0, 54.8], xTicks: xTicksMacDist, xLabel: null, yLabel: null, pts: ptsB.concat(ptsB2), mean: meanB, band: bandB, species: speciesTop}));
root.appendChild(makePanel({left: 0, top: 330, width: 361, height: 335, ml: 79.3, mr: 8, mt: 16.5, mb: 67.3,
  xDomain: [0.8, 7], xTicks: xTicksFLN, xLabel: xLabelFLN, yLabel: yLabel, pts: ptsC.concat(ptsC2), mean: meanC, band: bandC, species: speciesBottom}));
root.appendChild(makePanel({left: 361, top: 330, width: 361, height: 335, ml: 80.7, mr: 2.7, mt: 16.5, mb: 67.3,
  xDomain: [-0.05, 11.05], xTicks: xTicksMouseDist, xLabel: xLabelDist, yLabel: null, pts: ptsD.concat(ptsD2), mean: meanD, band: bandD, species: speciesBottom}));

// panel letters
const ns = "http://www.w3.org/2000/svg";
const over = document.createElementNS(ns, "svg");
over.setAttribute("width", 722); over.setAttribute("height", 665);
over.setAttribute("class", "p");
over.style.left = "0px"; over.style.top = "0px"; over.style.pointerEvents = "none";
const letterPos = [[3, 21.7], [368, 21.5], [3, 345.5], [366, 345.5]];
panelLetters.forEach((L, i) => {
  const t = document.createElementNS(ns, "text");
  t.setAttribute("x", letterPos[i][0]); t.setAttribute("y", letterPos[i][1]);
  t.setAttribute("font-family", FONT); t.setAttribute("font-weight", "bold"); t.setAttribute("font-size", 21);
  t.textContent = L;
  over.appendChild(t);
});
root.appendChild(over);
</script>
</body></html>
